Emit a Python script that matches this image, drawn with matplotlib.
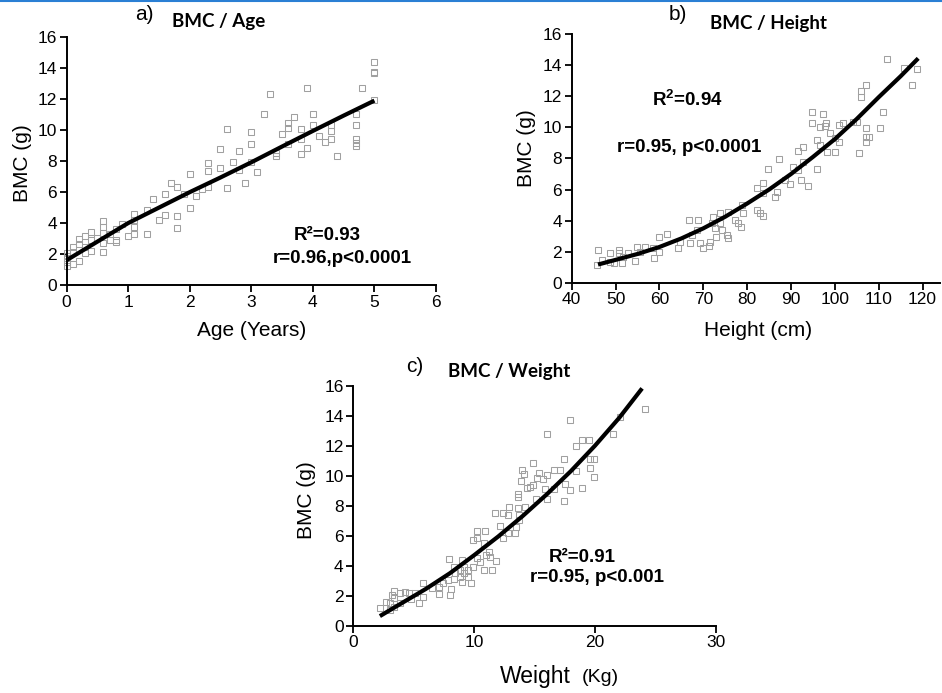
import matplotlib
matplotlib.use('Agg')
import matplotlib.pyplot as plt
from matplotlib.lines import Line2D

plt.rcParams['font.family'] = ['Liberation Sans', 'DejaVu Sans']
plt.rcParams['mathtext.fontset'] = 'custom'
plt.rcParams['mathtext.bf'] = 'Liberation Sans:bold'

# ---- panel a: BMC vs age ----
age = [5.0, 5.0, 5.0, 5.0, 4.8, 3.9, 3.3, 3.2, 4.0, 3.7, 3.6, 3.6, 4.7, 4.7, 4.3, 4.0,
       3.8, 3.5, 3.0, 3.0, 2.6, 4.1, 4.3, 3.8, 3.6, 4.2, 4.3, 4.7, 4.7, 4.7, 3.9, 3.4,
       3.4, 3.8, 4.4, 2.5, 2.8, 2.7, 2.3, 2.3, 2.5, 2.8, 3.0, 3.1, 2.9, 2.6, 2.3, 2.2,
       2.1, 2.0, 1.7, 1.8, 1.9, 1.6, 2.0, 1.4, 1.6, 1.5, 1.8, 1.8, 1.3, 1.3, 1.1, 1.1,
       1.1, 1.1, 1.0, 0.9, 0.8, 0.8, 0.8, 0.7, 0.7, 0.6, 0.6, 0.6, 0.6, 0.6, 0.5, 0.4,
       0.4, 0.4, 0.3, 0.3, 0.3, 0.2, 0.2, 0.2, 0.1, 0.1, 0.1, 0.0, 0.0, 0.0, 0.0, 0.0]
bmc_age = [14.44, 13.8, 13.7, 11.96, 12.76, 12.76, 12.35, 11.03, 11.03, 10.84, 10.45, 10.17,
           11.03, 10.34, 10.34, 10.34, 10.06, 9.76, 9.87, 9.12, 10.06, 9.66, 9.96, 9.42,
           9.12, 9.22, 9.42, 9.42, 9.16, 9.01, 8.88, 8.51, 8.36, 8.45, 8.36, 8.77, 8.66,
           7.97, 7.87, 7.37, 7.54, 7.44, 7.93, 7.33, 6.62, 6.25, 6.34, 6.19, 5.78, 7.16,
           6.62, 6.36, 5.86, 5.86, 4.96, 5.54, 4.53, 4.18, 4.46, 3.66, 4.85, 3.28, 4.57,
           4.2, 3.77, 3.28, 3.17, 3.94, 3.6, 2.91, 2.76, 3.28, 2.91, 3.73, 4.16, 3.34,
           2.69, 2.16, 3.06, 3.41, 2.91, 2.22, 3.17, 2.48, 2.05, 2.95, 2.63, 1.55, 2.44,
           2.11, 1.34, 2.05, 1.72, 1.51, 1.25, 1.9]
fit_age_x = [0, 0.5, 1, 1.5, 2, 2.5, 3, 3.5, 4, 4.5, 5]
fit_age_y = [1.6, 2.8, 4.0, 5.0, 6.0, 6.95, 7.93, 8.95, 9.96, 10.95, 11.92]

# ---- panel b: BMC vs height ----
height = [111.8, 115.8, 118.8, 117.7, 107.2, 105.9, 105.9, 111.0, 94.9, 97.4, 94.9, 96.6,
          97.7, 97.9, 98.9, 101.0, 101.8, 104.1, 105.0, 107.0, 110.3, 107.0, 107.8, 107.0,
          105.4, 95.9, 96.5, 100.0, 101.0, 98.3, 100.0, 95.9, 92.8, 91.7, 92.8, 91.7, 90.4,
          92.3, 93.8, 87.3, 84.7, 89.8, 88.6, 86.4, 86.7, 83.7, 82.3, 83.7, 82.3, 82.9,
          83.7, 78.8, 79.1, 75.7, 73.8, 72.3, 71.9, 73.8, 74.2, 73.0, 72.7, 75.3, 75.7,
          77.2, 77.9, 78.7, 68.9, 66.8, 68.5, 67.4, 67.0, 69.3, 70.0, 71.5, 71.4, 64.7,
          64.3, 61.7, 59.8, 59.8, 58.6, 58.8, 56.7, 54.8, 55.6, 54.4, 52.9, 51.8, 50.8,
          50.8, 51.4, 48.7, 48.7, 46.8, 45.9, 45.7, 49.7]
bmc_height = [14.43, 13.81, 13.75, 12.74, 12.74, 12.37, 11.94, 11.02, 11.02, 10.85, 10.31,
              10.05, 10.1, 10.31, 9.62, 10.16, 10.31, 10.37, 10.37, 9.94, 9.94, 9.41, 9.41,
              9.08, 8.33, 9.19, 8.87, 9.3, 9.08, 8.44, 8.44, 7.3, 8.76, 8.5, 7.8, 7.26,
              7.47, 6.62, 6.25, 7.95, 7.3, 6.36, 6.62, 5.54, 5.86, 6.4, 6.12, 5.8, 4.68,
              4.47, 4.32, 5.0, 4.47, 4.57, 4.47, 4.21, 3.82, 3.82, 3.39, 2.96, 3.5, 3.07,
              2.86, 4.04, 3.82, 3.6, 4.04, 4.04, 3.39, 3.07, 2.53, 2.53, 2.21, 2.64, 2.36,
              2.64, 2.21, 3.11, 2.92, 2.0, 2.21, 1.57, 2.32, 2.32, 2.0, 1.42, 1.89, 1.68,
              2.1, 1.89, 1.25, 1.89, 1.35, 1.46, 2.1, 1.14, 1.25]
fit_height_x = [46, 50, 55, 60, 65, 70, 75, 80, 85, 90, 95, 100, 105, 110, 115, 119]
fit_height_y = [1.17, 1.47, 1.85, 2.3, 2.85, 3.5, 4.25, 5.1, 6.0, 7.0, 8.1, 9.25, 10.55,
                11.95, 13.3, 14.45]

# ---- panel c: BMC vs weight ----
weight = [24.1, 22.1, 17.9, 16.0, 21.5, 18.9, 19.5, 18.4, 17.4, 19.6, 19.9, 14.9, 16.6,
          17.1, 18.4, 19.6, 19.9, 14.0, 14.1, 15.4, 16.0, 15.7, 15.2, 13.9, 17.5, 14.9,
          14.6, 14.4, 17.9, 18.9, 16.6, 15.9, 16.0, 17.4, 13.6, 13.6, 15.1, 14.2, 13.6,
          12.9, 11.7, 12.4, 12.8, 13.7, 13.7, 13.5, 12.1, 12.8, 13.4, 12.4, 10.2, 10.9,
          9.9, 10.2, 10.8, 11.2, 11.0, 11.3, 11.8, 10.5, 10.2, 10.8, 11.5, 7.9, 8.3, 9.0,
          9.2, 9.5, 9.9, 8.8, 8.4, 8.8, 9.2, 9.5, 9.7, 9.0, 8.3, 7.8, 7.4, 8.1, 8.0, 7.1,
          7.1, 6.5, 5.8, 5.8, 5.1, 5.4, 4.8, 4.6, 4.3, 3.9, 3.4, 3.4, 3.2, 3.0, 2.7, 3.0,
          2.2, 3.4, 3.9]
bmc_weight = [14.44, 13.89, 13.71, 12.76, 12.76, 12.38, 12.38, 11.98, 11.09, 11.09, 11.09,
              10.82, 10.38, 10.38, 10.33, 10.49, 9.93, 10.38, 10.09, 10.16, 10.04, 9.76,
              9.82, 9.67, 9.44, 9.38, 9.22, 9.16, 9.04, 9.16, 9.09, 9.09, 8.42, 8.33, 8.78,
              8.6, 8.42, 7.93, 7.82, 7.93, 7.53, 7.49, 7.38, 7.38, 7.04, 6.6, 6.64, 6.2,
              6.2, 5.82, 6.33, 6.33, 5.71, 5.82, 5.53, 4.93, 4.71, 4.56, 4.33, 4.27, 4.49,
              3.71, 3.71, 4.42, 3.93, 4.38, 3.93, 3.71, 3.93, 3.71, 3.49, 3.27, 3.49, 3.22,
              2.82, 2.93, 3.09, 3.04, 2.87, 2.42, 2.04, 2.6, 2.11, 2.49, 2.82, 1.93, 2.16,
              1.53, 1.76, 2.2, 2.27, 2.16, 2.33, 1.82, 2.04, 1.49, 1.6, 1.04, 1.16, 1.27,
              1.49]
fit_weight_x = [2.2, 4, 6, 8, 10, 12, 14, 16, 18, 20, 22, 23.9]
fit_weight_y = [0.64, 1.5, 2.45, 3.5, 4.7, 5.95, 7.3, 8.75, 10.3, 12.0, 13.85, 15.82]

MARKER_COLOR = '#a0a0a0'


def style_axes(ax, xlim, xticks):
    ax.set_xlim(*xlim)
    ax.set_ylim(0, 16)
    ax.set_xticks(xticks)
    ax.set_yticks(range(0, 17, 2))
    ax.spines['top'].set_visible(False)
    ax.spines['right'].set_visible(False)
    for s in ('left', 'bottom'):
        ax.spines[s].set_linewidth(1.4)
    ax.tick_params(direction='out', length=5, width=1.3, labelsize=12.5, pad=2)
    ax.patch.set_alpha(0)


def panel(ax, x, y, fx, fy):
    ax.plot(x, y, ls='none', marker='s', ms=4.2, mfc='none', mec=MARKER_COLOR, mew=0.75,
            clip_on=False)
    ax.plot(fx, fy, color='black', lw=3, solid_capstyle='butt', solid_joinstyle='round',
            clip_on=False)


fig = plt.figure(figsize=(9.42, 6.93), dpi=100)
W, H = 942, 693


def add_ax(left, right, bottom, top):
    return fig.add_axes([left / W, 1 - bottom / H, (right - left) / W, (bottom - top) / H])


# a)
ax_a = add_ax(66.5, 436, 285, 37.5)
panel(ax_a, age, bmc_age, fit_age_x, fit_age_y)
style_axes(ax_a, (0, 6), range(0, 7))

# b)
ax_b = add_ax(571.7, 940, 282.7, 34.3)
panel(ax_b, height, bmc_height, fit_height_x, fit_height_y)
style_axes(ax_b, (40, 40 + (940 - 571.7) / 4.386), range(40, 121, 10))

# c)
ax_c = add_ax(353.3, 715.8, 625.7, 385.7)
panel(ax_c, weight, bmc_weight, fit_weight_x, fit_weight_y)
style_axes(ax_c, (0, 30), [0, 10, 20, 30])


def ftext(x, y, s, **kw):
    fig.text(x / W, 1 - y / H, s, **kw)


title_kw = dict(family=['Lato', 'DejaVu Sans'], weight='bold', fontsize=13.5, va='center', ha='left')
lab_kw = dict(fontsize=15, va='center', ha='center')

# titles
ftext(144, 15, 'a)', **lab_kw)
ftext(172, 21, 'BMC / Age', **title_kw)
ftext(678, 15, 'b)', **lab_kw)
ftext(710, 23, 'BMC / Height', **title_kw)
ftext(415, 367, 'c)', **lab_kw)
ftext(448, 371, 'BMC / Weight', **title_kw)

# axis labels
axlab = dict(fontsize=15, va='center', ha='center')
ftext(22, 163, 'BMC (g)', rotation=90, **axlab)
ftext(252, 331, 'Age (Years)', **axlab)
ftext(526, 148, 'BMC (g)', rotation=90, **axlab)
ftext(758, 331, 'Height (cm)', **axlab)
ftext(306, 500, 'BMC (g)', rotation=90, **axlab)
ftext(500, 677, 'Weight', fontsize=16.5, va='center', ha='left')
ftext(582, 677, '(Kg)', fontsize=14, va='center', ha='left')

# statistics
st = dict(fontsize=13.5, weight='bold', va='center', ha='center')
ftext(327, 236, 'R²=0.93', **st)
ftext(342, 258, 'r=0.96,p<0.0001', **st)
ftext(687, 100, r'R$^\mathbf{2}$=0.94', **st)
ftext(689, 147, 'r=0.95, p<0.0001', **st)
ftext(582, 557, 'R²=0.91', **st)
ftext(597, 578, 'r=0.95, p<0.001', **st)

# thin blue rule along the top edge
fig.add_artist(Line2D([0, 1], [1 - 1 / H, 1 - 1 / H], color='#2a7fd4', lw=1.5,
                      transform=fig.transFigure))

fig.savefig('out.png', dpi=100, facecolor='white')
